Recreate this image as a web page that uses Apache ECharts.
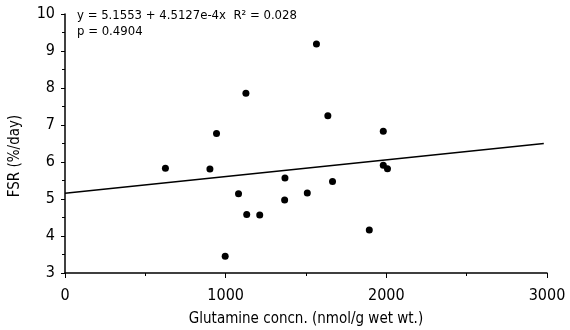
<!DOCTYPE html>
<html>
<head>
<meta charset="utf-8">
<script src="https://cdn.jsdelivr.net/npm/echarts@6/dist/echarts.min.js"></script>
<style>
html, body { margin: 0; padding: 0; background: #fff; }
#chart { width: 570px; height: 330px; }
</style>
</head>
<body>
<div id="chart"></div>
<script>
// glutamine concentration (nmol/g wet wt.) vs FSR (%/day)
var glnConc = [625, 902, 943, 997, 1080, 1126, 1131, 1212, 1367, 1369, 1508, 1565, 1636, 1665, 1894, 1981, 1981, 2007];
var fsr = [5.83, 5.81, 6.77, 3.45, 5.14, 7.86, 4.58, 4.57, 4.97, 5.57, 5.16, 9.19, 7.25, 5.47, 4.16, 6.83, 5.91, 5.82];
// fitted line y = 5.1553 + 4.5127e-4 x
var fitX = [0, 2980];
var fitY = [5.1553, 5.1553 + 4.5127e-4 * 2980];
var fontFam = '"Liberation Sans Narrow", "DejaVu Sans Condensed", sans-serif';

var pts = [];
for (var i = 0; i < glnConc.length; i++) {
	pts.push([glnConc[i], fsr[i]]);
}
var linePts = [];
for (var j = 0; j < fitX.length; j++) {
	linePts.push([fitX[j], fitY[j]]);
}

var myChart = echarts.init(document.getElementById('chart'));
var option = {
	backgroundColor: '#fff',
	animation: false,
	textStyle: { fontFamily: fontFam, color: '#000' },
	grid: { left: 65, right: 23, top: 14, bottom: 57, containLabel: false, outerBoundsMode: 'none' },
	xAxis: {
		type: 'value',
		min: 0, max: 3000, interval: 1000,
		name: 'Glutamine concn. (nmol/g wet wt.)',
		nameLocation: 'middle',
		nameGap: 39,
		nameTextStyle: { fontSize: 15, fontFamily: fontFam, color: '#000' },
		axisLine: { lineStyle: { color: '#000', width: 1.5 } },
		axisTick: { length: 5, lineStyle: { color: '#000' } },
		minorTick: { show: true, splitNumber: 2, length: 3, lineStyle: { color: '#000' } },
		axisLabel: {
			fontSize: 16, color: '#000', margin: 15,
			formatter: function (v) { return String(v); }
		},
		splitLine: { show: false }
	},
	yAxis: {
		type: 'value',
		min: 3, max: 10, interval: 1,
		name: 'FSR (%/day)',
		nameLocation: 'middle',
		nameGap: 42,
		nameTextStyle: { fontSize: 15, fontFamily: fontFam, color: '#000', padding: [0, 0, 0, -25] },
		axisLine: { lineStyle: { color: '#000', width: 1.5 } },
		axisTick: { length: 4, lineStyle: { color: '#000' } },
		minorTick: { show: true, splitNumber: 2, length: 3, lineStyle: { color: '#000' } },
		axisLabel: { fontSize: 16, color: '#000', margin: 10 },
		splitLine: { show: false }
	},
	graphic: [
		{ type: 'text', left: 77, top: 9, style: { text: 'y = 5.1553 + 4.5127e-4x  R\u00b2 = 0.028', fontSize: 13, fontFamily: fontFam, fill: '#000' } },
		{ type: 'text', left: 77, top: 25, style: { text: 'p = 0.4904', fontSize: 13, fontFamily: fontFam, fill: '#000' } }
	],
	series: [
		{
			type: 'line',
			data: linePts,
			showSymbol: false,
			lineStyle: { color: '#000', width: 1.5 },
			silent: true
		},
		{
			type: 'scatter',
			data: pts,
			symbol: 'circle',
			symbolSize: 7,
			itemStyle: { color: '#000', opacity: 1 }
		}
	]
};
myChart.setOption(option);
</script>
</body>
</html>
